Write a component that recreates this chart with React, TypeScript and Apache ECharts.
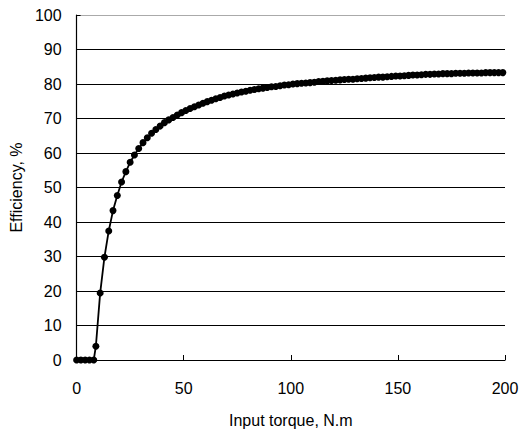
import React, { useEffect, useRef } from "react";
import * as echarts from "echarts";

const torque: number[] = [
  0, 2, 4, 6, 8,
  9, 11, 13, 15, 17, 19, 21, 23, 25, 27, 29, 31, 33, 35, 37, 39,
  41, 43, 45, 47, 49, 51, 53, 55, 57, 59, 61, 63, 65, 67, 69, 71,
  73, 75, 77, 79, 81, 83, 85, 87, 89, 91, 93, 95, 97, 99, 101, 103,
  105, 107, 109, 111, 113, 115, 117, 119, 121, 123, 125, 127, 129, 131,
  133, 135, 137, 139, 141, 143, 145, 147, 149, 151, 153, 155, 157, 159,
  161, 163, 165, 167, 169, 171, 173, 175, 177, 179, 181, 183, 185, 187,
  189, 191, 193, 195, 197, 199,
];

const efficiency: number[] = [
  0, 0, 0, 0, 0,
  4, 19.4, 29.8, 37.4, 43.3, 47.7, 51.6, 54.6, 57.3, 59.4, 61.3, 63.0, 64.4, 65.7, 66.8, 67.8,
  68.8, 69.6, 70.3, 71.0, 71.7, 72.3, 72.9, 73.4, 73.9, 74.4, 74.9, 75.3, 75.7, 76.1, 76.5, 76.8,
  77.1, 77.4, 77.7, 77.9, 78.2, 78.4, 78.6, 78.8, 79.0, 79.2, 79.3, 79.5, 79.7, 79.8, 80.0, 80.1,
  80.2, 80.3, 80.4, 80.5, 80.7, 80.8, 80.9, 81.0, 81.1, 81.2, 81.3, 81.4, 81.4, 81.5,
  81.6, 81.7, 81.8, 81.9, 82.0, 82.0, 82.1, 82.2, 82.3, 82.3, 82.4, 82.5, 82.6, 82.6,
  82.7, 82.8, 82.8, 82.9, 82.9, 83.0, 83.0, 83.0, 83.1, 83.1, 83.1, 83.2, 83.2, 83.2,
  83.2, 83.3, 83.3, 83.3, 83.3, 83.3,
];

const xTitle = "Input torque, N.m";
const yTitle = "Efficiency, %";

const FONT = "'Liberation Sans', Arial, Helvetica, sans-serif";

export default function App() {
  const ref = useRef<HTMLDivElement>(null);

  useEffect(() => {
    document.body.style.margin = "0";
    if (!ref.current) return;
    const chart = echarts.init(ref.current, undefined, { renderer: "svg" });
    const data = torque.map((t, i) => [t, efficiency[i]]);
    const gridColors = [
      "#000", "#000", "#000", "#000", "#000", "#000",
      "#000", "#000", "#000", "#000", "#aaa",
    ];
    chart.setOption({
      animation: false,
      backgroundColor: "#fff",
      textStyle: { fontFamily: FONT },
      grid: { left: 73, right: 17, top: 15, bottom: 78, containLabel: false },
      xAxis: {
        type: "value",
        min: 0,
        max: 200,
        interval: 50,
        name: xTitle,
        nameLocation: "middle",
        nameGap: 52,
        nameTextStyle: { color: "#000", fontSize: 16, fontFamily: FONT },
        axisLine: { show: true, lineStyle: { color: "#000", width: 1.2 } },
        axisTick: { show: true, inside: true, length: 5, lineStyle: { color: "#000" } },
        axisLabel: { color: "#000", fontSize: 16, margin: 20, fontFamily: FONT },
        splitLine: { show: false },
      },
      yAxis: {
        type: "value",
        min: 0,
        max: 100,
        interval: 10,
        name: yTitle,
        nameLocation: "middle",
        nameRotate: 90,
        nameGap: 51,
        nameTextStyle: { color: "#000", fontSize: 16, fontFamily: FONT },
        axisLine: { show: true, lineStyle: { color: "#000", width: 1.2 } },
        axisTick: { show: true, inside: true, length: 4, lineStyle: { color: "#000" } },
        axisLabel: { color: "#000", fontSize: 16, margin: 15, fontFamily: FONT },
        splitLine: { show: true, lineStyle: { color: gridColors, width: 1 } },
      },
      series: [
        {
          type: "line",
          data,
          symbol: "circle",
          symbolSize: 7,
          showAllSymbol: true,
          itemStyle: { color: "#000" },
          lineStyle: { color: "#000", width: 1.8 },
          emphasis: { disabled: true },
        },
      ],
    });
    return () => chart.dispose();
  }, []);

  return (
    <div
      ref={ref}
      style={{ position: "absolute", left: 0, top: 0, width: 522, height: 438 }}
    />
  );
}
